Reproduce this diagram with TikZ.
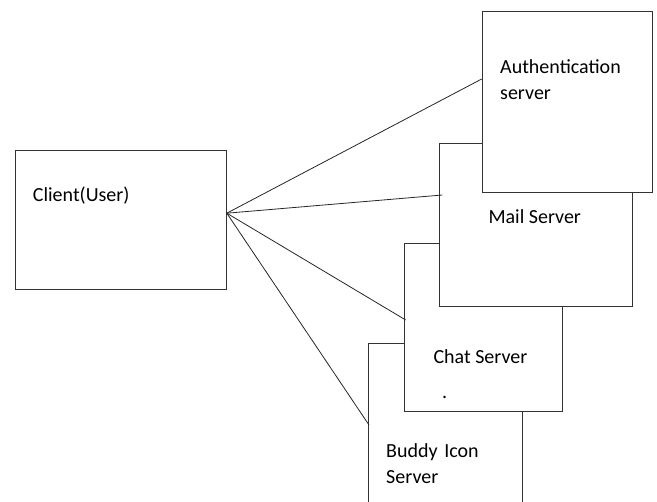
\documentclass[tikz,border=0pt]{standalone}
\usepackage{fontspec}
\setmainfont{Carlito}
\usetikzlibrary{positioning}

\begin{document}
\begin{tikzpicture}[x=1pt, y=-1pt,
  box/.style={draw=black!80, line width=1.1pt, fill=white, anchor=north west, inner sep=0pt},
  lbl/.style={anchor=base west, inner sep=0pt, text=black, font=\fontsize{20}{26}\selectfont},
  link/.style={black!85, line width=0.8pt}]
\clip (0,0) rectangle (657,502);
% boxes, back to front
\node[box, minimum width=153.7pt, minimum height=200pt] (buddy) at (368,342.7) {};
\node[box, minimum width=158pt, minimum height=167.4pt] (chat) at (404,243.3) {};
\node[box, minimum width=193pt, minimum height=163.3pt] (mail) at (439.3,142.7) {};
\node[box, minimum width=170.6pt, minimum height=181.6pt] (auth) at (481.7,10.7) {};
\node[box, minimum width=210.7pt, minimum height=138.7pt] (client) at (15,150) {};
% labels
\node[lbl] (clientlbl) at (32.7,201.7) {Client(User)};
\node[lbl, text width=140pt, align=left] (authlbl) at (500,74) {Authentication\\server};
\node[lbl] (maillbl) at (488.3,223.3) {Mail Server};
\node[lbl] (chatlbl) at (433.3,364) {Chat Server};
\node[lbl] (chatdot) at (442,399) {.};
\node[lbl, text width=120pt, align=left] (buddylbl) at (386,457.7) {Buddy Icon\\Server};
% connectors
\coordinate (hub) at ([yshift=6.7pt]client.east);
\draw[link] (hub) -- ([yshift=-68.3pt]auth.north west);
\draw[link] (hub) -- ([xshift=3pt, yshift=-52.3pt]mail.north west);
\draw[link] (hub) -- ([xshift=1.7pt, yshift=-76.7pt]chat.north west);
\draw[link] (hub) -- ([xshift=1pt, yshift=-82.3pt]buddy.north west);
\end{tikzpicture}
\end{document}
